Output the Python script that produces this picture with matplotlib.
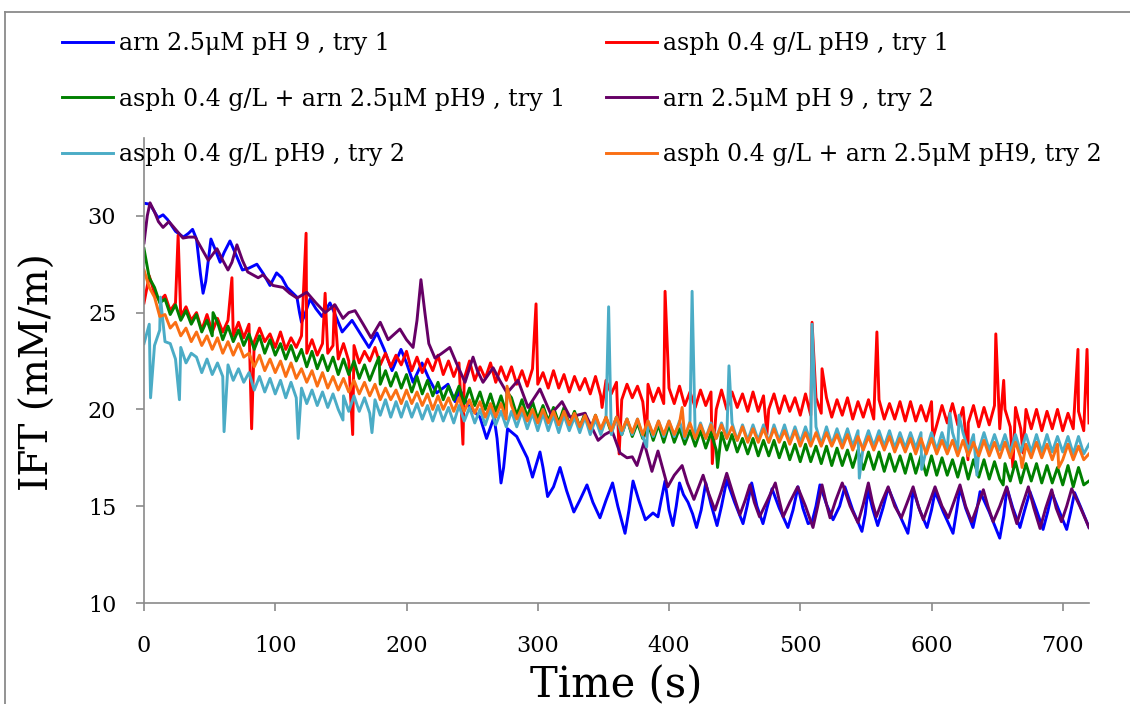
import numpy as np
import matplotlib
matplotlib.use("Agg")
import matplotlib.pyplot as plt
from matplotlib.lines import Line2D

# ---------------- data ----------------
labels = [
    "arn 2.5\u03bcM pH 9 , try 1",
    "asph 0.4 g/L pH9 , try 1",
    "asph 0.4 g/L + arn 2.5\u03bcM pH9 , try 1",
    "arn 2.5\u03bcM pH 9 , try 2",
    "asph 0.4 g/L pH9 , try 2",
    "asph 0.4 g/L + arn 2.5\u03bcM pH9, try 2",
]
colors = ["#0000FF", "#FF0000", "#008000", "#660066", "#4BACC6", "#FA6F14"]

x_ticks = [0, 100, 200, 300, 400, 500, 600, 700]
y_ticks = [10, 15, 20, 25, 30]

# common 4-s sampling grid for the fast-oscillating series (0..720 s)
grid_t = list(range(0, 724, 4))

# --- arn 2.5uM pH 9, try 1 (blue): read turning points ---
blue_t = [0, 4.5, 8, 10.7, 14.5, 18, 24, 30, 34, 37, 40, 43, 45, 47, 51, 54, 58, 61, 65.5, 70,
          75, 80, 86, 91, 96, 101, 105, 109, 116.5, 118.5, 120, 122, 126.5, 131, 135.6, 141.7, 145, 151, 158.5, 165,
          171.4, 177.5, 183, 189, 195.8, 200, 205, 211.8, 217, 223, 231.6, 237, 240.8, 248, 256, 261, 266.7, 269, 272, 274,
          277, 284, 292, 296, 301.7, 304, 307.5, 312, 317, 322, 327.5, 332, 337.5, 342, 347.4, 352, 357, 361, 366.5, 369.5,
          372.6, 377, 382, 387.8, 391.6, 394, 397, 400, 403, 405.5, 408, 411, 414.5, 418, 421, 424.5, 428, 432, 436.6, 440,
          444, 450, 456.4, 459.5, 463, 467, 471.6, 475, 478.5, 484, 490.6, 494.5, 498.3, 502, 506, 509, 512, 515, 520, 525,
          530, 534, 540, 547, 549.5, 551.6, 555, 559, 563, 567, 574, 582, 584, 586, 591, 596.6, 600, 602.7, 609, 616.4,
          619, 621.7, 626, 631.6, 634.5, 637, 644, 652, 655, 657.5, 662, 667.4, 671, 675, 680, 685, 688.5, 691.8, 697, 703,
          706, 709, 714, 720]
blue_v = [30.65, 30.6, 30.2, 29.9, 30.05, 29.8, 29.2, 28.9, 29.1, 29.3, 28.8, 27.0, 26.0, 26.6, 28.8, 28.3, 27.6, 28.1, 28.7, 28.0,
          27.2, 27.3, 27.5, 27.0, 26.4, 27.05, 26.8, 26.3, 25.8, 25.0, 24.5, 24.8, 25.7, 25.2, 24.8, 25.5, 25.0, 24.0, 24.6, 23.9,
          23.2, 23.95, 23.1, 22.0, 23.1, 22.4, 21.4, 22.4, 21.6, 20.85, 21.3, 20.4, 21.0, 20.1, 19.6, 18.5, 19.6, 18.5, 16.2, 17.0,
          19.0, 18.6, 17.5, 16.5, 17.8, 17.0, 15.5, 16.0, 17.0, 15.8, 14.7, 15.3, 16.1, 15.2, 14.4, 15.3, 16.2, 15.0, 13.6, 14.8,
          16.3, 15.3, 14.3, 14.65, 14.45, 15.3, 16.3, 14.8, 14.0, 15.0, 16.2, 15.6, 15.2, 14.6, 13.9, 14.8, 16.2, 15.1, 14.0, 15.0,
          16.35, 15.2, 14.1, 15.0, 16.2, 15.0, 14.1, 15.0, 15.9, 14.9, 13.9, 14.8, 16.0, 14.9, 14.1, 14.2, 15.0, 16.1, 15.1, 14.3,
          15.0, 16.0, 14.8, 13.7, 14.6, 15.85, 14.9, 14.0, 14.9, 15.95, 14.8, 13.6, 14.5, 15.85, 14.8, 13.9, 14.8, 15.75, 14.7, 13.6,
          14.7, 15.95, 14.9, 13.9, 14.8, 15.75, 14.7, 13.35, 14.5, 15.95, 14.9, 13.9, 14.8, 15.75, 14.8, 13.8, 14.7, 15.7, 14.8, 13.8,
          14.7, 15.7, 14.9, 13.9]

# --- arn 2.5uM pH 9, try 2 (purple): read turning points ---
purple_t = [0, 2.5, 4.6, 8, 11, 14.5, 19, 24, 29.7, 34, 39, 44, 49, 55.6, 60, 64, 67, 70.8, 75, 79,
            87, 90.7, 98.3, 106, 111, 116.6, 124, 131, 138, 145.5, 151.6, 156, 160.8, 167, 173, 180, 186, 195, 200, 205,
            208, 211, 214, 217, 221.7, 227, 233, 238, 244.6, 250.7, 254, 258.3, 266, 271, 276.6, 285, 292.6, 301.7, 310, 318.5,
            324.6, 330, 336, 341, 346, 351, 356.6, 362.7, 368, 372, 375.6, 381, 387, 391.6, 395, 399, 404, 410, 414, 419,
            426, 430, 435, 440, 444, 449, 454, 458, 461.7, 465, 469, 475, 481, 484, 487, 492, 498, 504, 509.7, 513,
            516.6, 520, 522.7, 527, 532, 538, 544, 548, 551.9, 555, 558, 562, 567, 572, 577, 581, 586, 590, 593.8, 598,
            602.7, 608, 612.8, 617, 621.7, 626, 630.6, 635, 639.5, 643, 647, 652, 657.3, 661, 665, 669, 673.8, 678, 682.7, 687,
            691.6, 695, 699, 703, 706.8, 713, 720]
purple_v = [28.6, 30.0, 30.67, 30.2, 29.7, 29.4, 29.7, 29.3, 28.85, 28.9, 28.9, 28.3, 27.7, 28.3, 27.7, 27.2, 27.6, 28.5, 27.7, 27.1,
            26.8, 26.95, 26.4, 26.3, 26.0, 25.75, 26.05, 25.5, 25.0, 25.4, 24.7, 25.0, 25.1, 24.4, 23.7, 24.5, 23.6, 24.15, 23.6, 23.2,
            24.6, 26.7, 25.0, 23.4, 22.65, 22.9, 23.2, 22.4, 21.4, 22.7, 22.0, 21.4, 22.15, 21.5, 20.85, 21.5, 20.1, 21.05, 19.75, 20.4,
            19.6, 19.7, 19.8, 19.1, 18.4, 18.7, 18.9, 17.75, 17.5, 17.55, 17.1, 18.3, 16.8, 17.85, 17.0, 16.0, 16.6, 17.1, 16.2, 15.35,
            16.6, 15.7, 14.8, 15.8, 16.7, 15.6, 14.55, 15.3, 16.1, 15.2, 14.45, 15.3, 16.2, 15.3, 14.45, 15.2, 16.0, 15.0, 13.9, 14.9,
            16.1, 15.1, 14.4, 15.3, 16.2, 15.0, 14.15, 15.1, 16.2, 15.2, 14.46, 15.2, 16.0, 15.0, 14.4, 15.1, 16.0, 15.0, 14.3, 15.1,
            16.0, 15.0, 14.4, 15.2, 16.1, 15.0, 14.2, 15.0, 15.85, 15.0, 14.2, 15.0, 16.0, 15.0, 14.1, 15.0, 16.0, 14.9, 13.85, 14.9,
            15.85, 14.9, 14.2, 15.0, 15.9, 15.0, 13.9]

# --- asph 0.4 g/L pH9, try 1 (red): baseline on grid + spikes ---
red_base = [
    25.5, 26.9, 26.0, 25.6, 25.9, 25.1, 25.5, 24.8, 25.3, 24.6,
    25.0, 24.1, 24.9, 24.0, 24.7, 24.0, 24.6, 23.8, 24.5, 23.7,
    24.4, 23.5, 24.2, 23.5, 23.9, 23.2, 24.0, 23.1, 23.7, 23.2,
    23.8, 22.9, 23.6, 22.8, 23.4, 22.9, 23.3, 22.6, 23.4, 22.5,
    23.3, 22.4, 23.0, 22.5, 23.2, 22.3, 22.9, 22.2, 22.8, 22.3,
    23.0, 22.0, 22.7, 21.9, 22.6, 22.0, 22.8, 21.8, 22.5, 21.7,
    22.4, 21.6, 22.5, 21.5, 22.2, 21.6, 22.4, 21.4, 22.2, 21.5,
    22.2, 21.3, 22.0, 21.2, 22.1, 21.3, 21.9, 21.1, 22.0, 21.1,
    21.8, 20.9, 21.7, 21.0, 21.6, 20.8, 21.7, 20.7, 21.5, 20.8,
    21.4, 20.5, 21.3, 20.6, 21.2, 20.4, 21.3, 20.4, 21.1, 20.3,
    21.1, 20.3, 21.2, 20.2, 20.9, 20.1, 21.0, 20.2, 20.9, 20.0,
    21.0, 20.0, 20.9, 20.1, 20.8, 19.9, 20.9, 19.9, 20.7, 20.0,
    20.8, 19.8, 20.7, 19.9, 20.6, 19.7, 20.8, 19.7, 20.6, 19.8,
    20.6, 19.6, 20.5, 19.7, 20.6, 19.5, 20.4, 19.6, 20.5, 19.5,
    20.5, 19.5, 20.3, 19.5, 20.4, 19.4, 20.4, 19.4, 20.2, 19.4,
    20.4, 19.2, 20.2, 19.3, 20.3, 19.2, 20.1, 19.3, 20.2, 19.1,
    20.1, 19.2, 20.2, 19.0, 20.0, 19.1, 20.1, 19.0, 20.0, 19.0,
    20.0, 18.9, 19.9, 19.0, 20.0, 18.9, 19.8, 19.0, 19.9, 18.9,
    19.3]
red_spike_t = [26, 67, 82, 123.5, 138, 145, 159, 243, 298.7, 349, 362, 383, 397, 433, 474.6, 509, 516.6,
               558.4, 601, 627.8, 649, 655, 662, 669.7, 711.6, 718.5]
red_spike_v = [29.0, 26.8, 19.0, 29.1, 26.0, 25.4, 18.7, 18.2, 25.45, 20.1, 17.7, 18.6, 26.1, 17.2, 18.7, 24.5, 22.1,
               24.0, 18.5, 17.4, 23.9, 21.5, 17.0, 17.75, 23.1, 23.1]

# --- asph 0.4 g/L + arn 2.5uM pH9, try 1 (green) ---
green_base = [
    28.3, 26.8, 26.3, 25.5, 25.7, 24.9, 25.4, 24.6, 25.1, 24.4,
    24.9, 24.0, 24.6, 23.8, 24.5, 23.6, 24.3, 23.5, 24.1, 23.3,
    23.9, 23.1, 23.8, 22.9, 23.6, 22.8, 23.4, 22.6, 23.3, 22.5,
    23.1, 22.2, 23.0, 22.1, 22.8, 22.0, 22.7, 21.8, 22.6, 21.8,
    22.5, 21.6, 22.3, 21.5, 22.2, 21.3, 22.0, 21.2, 21.9, 21.1,
    21.8, 20.9, 21.7, 20.8, 21.5, 20.7, 21.4, 20.5, 21.2, 20.5,
    21.2, 20.3, 21.1, 20.2, 20.9, 20.0, 20.8, 19.9, 20.7, 19.8,
    20.6, 19.7, 20.5, 19.6, 20.4, 19.5, 20.2, 19.4, 20.1, 19.3,
    20.1, 19.2, 19.9, 19.1, 19.8, 18.9, 19.7, 18.8, 19.6, 18.8,
    19.6, 18.7, 19.5, 18.6, 19.3, 18.5, 19.3, 18.4, 19.2, 18.3,
    19.2, 18.3, 19.0, 18.2, 18.9, 18.1, 18.9, 18.0, 18.8, 17.9,
    18.8, 17.9, 18.7, 17.8, 18.5, 17.7, 18.5, 17.6, 18.4, 17.6,
    18.4, 17.5, 18.3, 17.4, 18.2, 17.3, 18.2, 17.3, 18.1, 17.2,
    18.1, 17.1, 18.0, 17.1, 17.9, 17.0, 17.9, 16.9, 17.8, 16.9,
    17.8, 16.8, 17.7, 16.8, 17.6, 16.7, 17.7, 16.7, 17.6, 16.6,
    17.6, 16.6, 17.5, 16.6, 17.4, 16.5, 17.5, 16.4, 17.4, 16.5,
    17.4, 16.4, 17.3, 16.4, 17.2, 16.3, 17.3, 16.2, 17.2, 16.3,
    17.2, 16.2, 17.1, 16.2, 17.0, 16.1, 17.1, 16.0, 17.0, 16.1,
    16.3]
green_spike_t = [52.6, 179, 276.6, 437, 654.6]
green_spike_v = [25.0, 22.7, 20.9, 17.0, 16.1]

# --- asph 0.4 g/L pH9, try 2 (light blue) ---
cyan_base = [
    23.4, 24.4, 23.3, 24.1, 23.5, 23.4, 22.6, 23.2, 22.4, 22.9,
    22.7, 21.9, 22.6, 21.8, 22.4, 21.7, 22.3, 21.5, 22.1, 21.4,
    21.9, 21.0, 21.7, 20.9, 21.6, 20.8, 21.5, 20.6, 21.4, 20.6,
    21.1, 20.3, 21.0, 20.2, 20.9, 20.1, 20.8, 20.0, 20.7, 19.9,
    20.7, 19.9, 20.6, 19.8, 20.5, 19.7, 20.5, 19.6, 20.4, 19.6,
    20.4, 19.6, 20.3, 19.5, 20.2, 19.4, 20.2, 19.4, 20.1, 19.3,
    20.2, 19.4, 20.1, 19.3, 20.0, 19.2, 20.0, 19.2, 19.9, 19.1,
    19.9, 19.1, 19.9, 19.0, 19.8, 18.9, 19.8, 18.9, 19.7, 18.8,
    19.7, 18.9, 19.6, 18.8, 19.6, 18.7, 19.5, 18.7, 19.5, 18.7,
    19.6, 18.7, 19.5, 18.7, 19.5, 18.6, 19.4, 18.6, 19.4, 18.6,
    19.4, 18.6, 19.4, 18.5, 19.4, 18.5, 19.3, 18.5, 19.3, 18.5,
    19.3, 18.5, 19.3, 18.4, 19.2, 18.4, 19.2, 18.4, 19.2, 18.3,
    19.2, 18.4, 19.2, 18.3, 19.1, 18.3, 19.1, 18.3, 19.1, 18.2,
    19.1, 18.2, 19.0, 18.2, 19.0, 18.1, 18.9, 18.1, 18.9, 18.1,
    18.9, 18.1, 18.9, 18.0, 18.8, 18.0, 18.8, 18.0, 18.8, 17.9,
    18.8, 17.9, 18.8, 17.9, 18.8, 17.9, 18.8, 17.9, 18.7, 17.9,
    18.8, 17.9, 18.7, 17.9, 18.7, 17.8, 18.7, 17.8, 18.7, 17.8,
    18.7, 17.8, 18.7, 17.8, 18.6, 17.8, 18.6, 17.7, 18.6, 17.7,
    18.2]
cyan_spike_t = [5, 12.5, 27, 61, 117.5, 151.6, 173.7, 354, 383, 417.6, 445.7, 509, 545, 592.5, 614, 621, 634.6]
cyan_spike_v = [20.6, 25.8, 20.5, 18.85, 18.5, 19.45, 18.8, 25.3, 18.06, 26.1, 22.25, 24.4, 16.45, 16.9, 19.8, 19.7, 16.6]

# --- asph 0.4 g/L + arn 2.5uM pH9, try 2 (orange) ---
orange_base = [
    27.2, 26.3, 25.8, 24.8, 24.9, 24.2, 24.5, 23.8, 24.2, 23.5,
    24.0, 23.3, 23.8, 23.1, 23.7, 22.9, 23.5, 22.8, 23.4, 22.7,
    22.9, 22.2, 22.8, 22.0, 22.6, 21.9, 22.5, 21.7, 22.4, 21.6,
    22.1, 21.4, 22.0, 21.2, 21.9, 21.1, 21.7, 21.0, 21.6, 20.9,
    21.5, 20.8, 21.4, 20.7, 21.3, 20.5, 21.1, 20.5, 21.0, 20.3,
    21.0, 20.3, 20.9, 20.2, 20.8, 20.0, 20.7, 20.0, 20.6, 19.9,
    20.6, 19.9, 20.5, 19.8, 20.4, 19.6, 20.3, 19.6, 20.3, 19.5,
    20.2, 19.5, 20.1, 19.4, 20.0, 19.3, 20.0, 19.3, 19.9, 19.2,
    19.9, 19.2, 19.8, 19.1, 19.7, 19.0, 19.7, 19.0, 19.6, 18.9,
    19.6, 18.9, 19.5, 18.8, 19.5, 18.7, 19.4, 18.7, 19.4, 18.7,
    19.4, 18.7, 19.3, 18.6, 19.3, 18.5, 19.2, 18.5, 19.2, 18.5,
    19.2, 18.5, 19.1, 18.4, 19.1, 18.3, 19.0, 18.3, 19.0, 18.3,
    19.0, 18.3, 18.9, 18.2, 18.9, 18.1, 18.8, 18.1, 18.8, 18.1,
    18.8, 18.1, 18.7, 18.0, 18.7, 17.9, 18.6, 17.9, 18.6, 17.9,
    18.6, 17.9, 18.6, 17.8, 18.5, 17.8, 18.5, 17.7, 18.5, 17.7,
    18.5, 17.7, 18.4, 17.7, 18.4, 17.6, 18.4, 17.6, 18.3, 17.6,
    18.4, 17.6, 18.3, 17.5, 18.3, 17.5, 18.3, 17.5, 18.2, 17.5,
    18.3, 17.5, 18.2, 17.4, 18.2, 17.4, 18.2, 17.4, 18.1, 17.4,
    17.7]
orange_spike_t = [276.6, 410, 669, 697]
orange_spike_v = [21.2, 20.1, 17.0, 17.0]


def merged(base, st, sv):
    t = np.concatenate([np.asarray(grid_t, float), np.asarray(st, float)])
    v = np.concatenate([np.asarray(base, float), np.asarray(sv, float)])
    order = np.argsort(t, kind="stable")
    return t[order], v[order]


series = [
    (np.asarray(blue_t), np.asarray(blue_v)),
    merged(red_base, red_spike_t, red_spike_v),
    merged(green_base, green_spike_t, green_spike_v),
    (np.asarray(purple_t), np.asarray(purple_v)),
    merged(cyan_base, cyan_spike_t, cyan_spike_v),
    merged(orange_base, orange_spike_t, orange_spike_v),
]

# ---------------- figure ----------------
W, H = 1130, 704
fig = plt.figure(figsize=(W / 100, H / 100), dpi=100)
plt.rcParams["font.family"] = ["DejaVu Serif"]

def fx(px):
    return px / W

def fy(py):
    return 1 - py / H

x0, x1 = 144, 1089
y_bot, y_top = 603, 119  # pixel rows of y=10 and y=35
ax = fig.add_axes([fx(x0), fy(y_bot), (x1 - x0) / W, (y_bot - y_top) / H])

handles = []
for (t, v), c, lab in zip(series, colors, labels):
    h, = ax.plot(t, v, color=c, lw=2.1, label=lab, solid_joinstyle="round")
    handles.append(h)

ax.set_xlim(0, 720)
ax.set_ylim(10, 35)
ax.set_xticks(x_ticks)
ax.set_yticks(y_ticks)
ax.set_xticklabels([str(v) for v in x_ticks])
ax.set_yticklabels([str(v) for v in y_ticks])

gray = "#8A8A8A"
for s in ["top", "right"]:
    ax.spines[s].set_visible(False)
for s in ["left", "bottom"]:
    ax.spines[s].set_color(gray)
    ax.spines[s].set_linewidth(1.2)
ax.spines["left"].set_bounds(10, 34.0)
ax.tick_params(axis="both", colors=gray, length=6, width=1.2, direction="out",
               labelcolor="black", labelsize=16)
ax.tick_params(axis="y", pad=14)
ax.tick_params(axis="x", pad=17)

ax.set_xlabel("Time (s)", fontsize=30)
ax.set_ylabel("IFT (mM/m)", fontsize=28)
ax.xaxis.set_label_coords(0.5, -(664 - 603) / (y_bot - y_top))
ax.yaxis.set_label_coords(-(144 - 57) / (x1 - x0), (603 - 372) / (y_bot - y_top))

# legend: two columns, rows read left-to-right as in the reference
col1 = [handles[0], handles[2], handles[4]]
col2 = [handles[1], handles[3], handles[5]]
common = dict(frameon=False, fontsize=17, handlelength=2.15, handletextpad=0.25,
              labelspacing=1.38, borderpad=0, borderaxespad=0, loc="upper left")
fig.legend(col1, [h.get_label() for h in col1], bbox_to_anchor=(fx(62), fy(32)), **common)
fig.legend(col2, [h.get_label() for h in col2], bbox_to_anchor=(fx(606), fy(32)), **common)

# outer chart border (top and left edges visible)
fig.add_artist(Line2D([fx(5), 1.0], [fy(12), fy(12)], color=gray, lw=1.3, transform=fig.transFigure))
fig.add_artist(Line2D([fx(5), fx(5)], [fy(12), 0.0], color=gray, lw=1.3, transform=fig.transFigure))

fig.savefig("out.png", dpi=100)
